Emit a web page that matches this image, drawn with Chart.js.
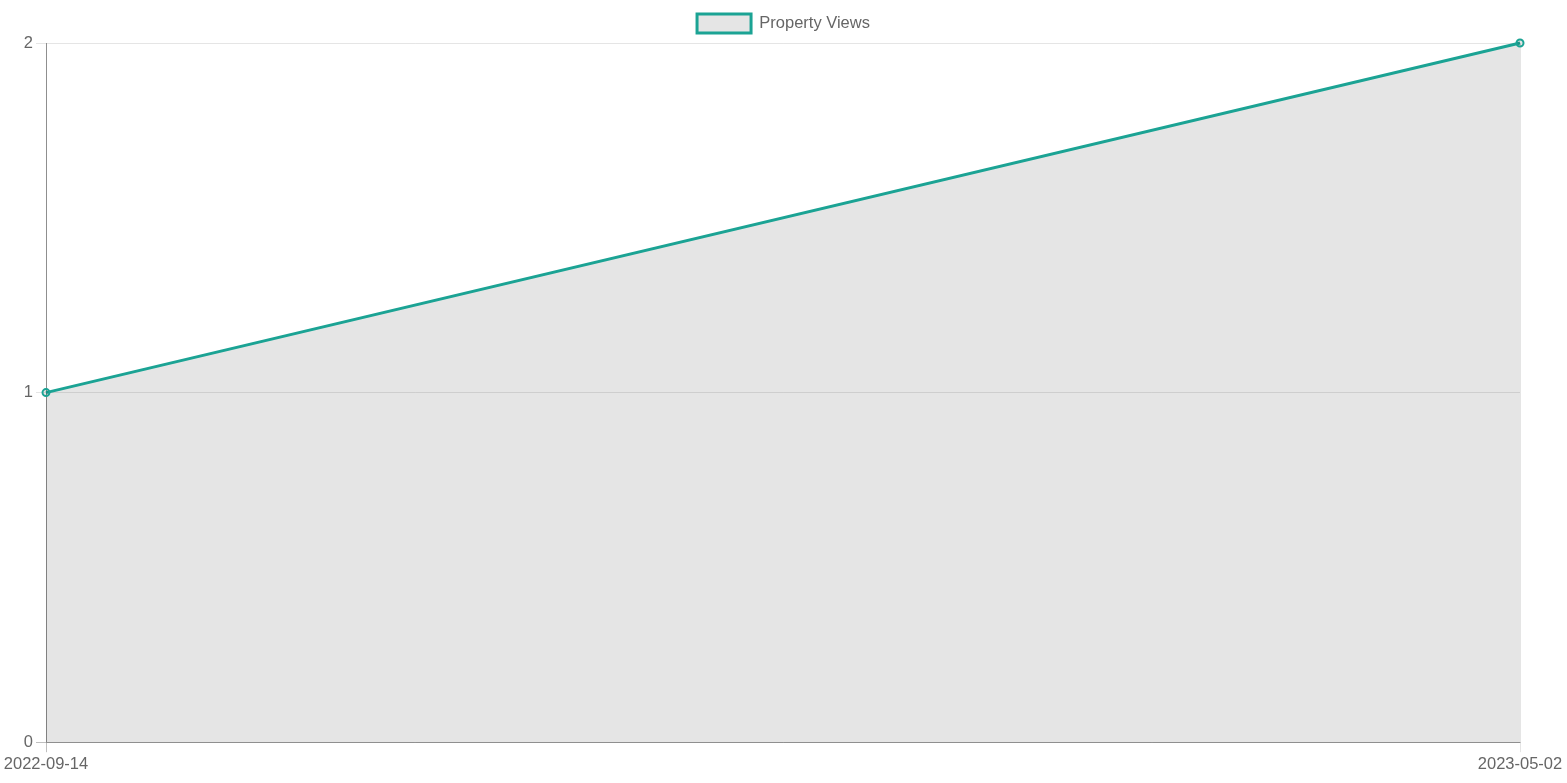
<!DOCTYPE html>
<html>
<head>
<meta charset="utf-8">
<script src="https://cdn.jsdelivr.net/npm/chart.js@4/dist/chart.umd.min.js"></script>
<style>
  html, body { margin: 0; padding: 0; background: #fff; }
  #wrap { position: relative; width: 1567px; height: 783px; }
</style>
</head>
<body>
<div id="wrap"><canvas id="viewsChart"></canvas></div>
<script>
const dates = ['2022-09-14', '2023-05-02'];
const views = [1, 2];
const yTicks = [0, 1, 2];

Chart.defaults.font.family = '"Liberation Sans", Arial, sans-serif';
Chart.defaults.font.size = 16.5;
Chart.defaults.color = '#666';

// v2 style: first line (zero line) darker than the rest of the grid
const gridColor = (c) => c.index === 0 ? 'rgba(0, 0, 0, 0.25)' : 'rgba(0, 0, 0, 0.1)';

const ctx = document.getElementById('viewsChart').getContext('2d');
new Chart(ctx, {
    type: 'line',
    data: {
        labels: dates,
        datasets: [{
            label: 'Property Views',
            data: views,
            borderColor: '#1ba394',
            backgroundColor: 'rgba(0, 0, 0, 0.1)',
            borderWidth: 3,
            fill: 'origin',
            tension: 0,
            clip: false,
            pointRadius: 3.5,
            pointBorderWidth: 2,
            pointBackgroundColor: 'rgba(0, 0, 0, 0.1)',
            pointBorderColor: '#1ba394'
        }]
    },
    options: {
        responsive: true,
        maintainAspectRatio: false,
        animation: false,
        layout: { padding: { top: 2, right: 0, bottom: 7, left: 0 } },
        plugins: {
            legend: {
                labels: {
                    boxWidth: 54,
                    boxHeight: 19,
                    padding: 12,
                    color: '#666'
                }
            },
            tooltip: { enabled: false }
        },
        scales: {
            x: {
                offset: false,
                ticks: { color: '#666', maxRotation: 0, padding: 2 },
                grid: { color: gridColor, tickColor: gridColor, tickLength: 10 },
                border: { color: 'rgba(0, 0, 0, 0.25)' },
                // keep room at both sides like the original, legend stays centred
                afterFit: (scale) => {
                    scale.paddingLeft = 46;
                    scale.paddingRight = 47;
                }
            },
            y: {
                min: yTicks[0],
                max: yTicks[yTicks.length - 1],
                ticks: { stepSize: 1, color: '#666', padding: 3 },
                grid: { color: gridColor, tickColor: gridColor, tickLength: 10 },
                border: { color: 'rgba(0, 0, 0, 0.25)' }
            }
        }
    }
});
</script>
</body>
</html>
